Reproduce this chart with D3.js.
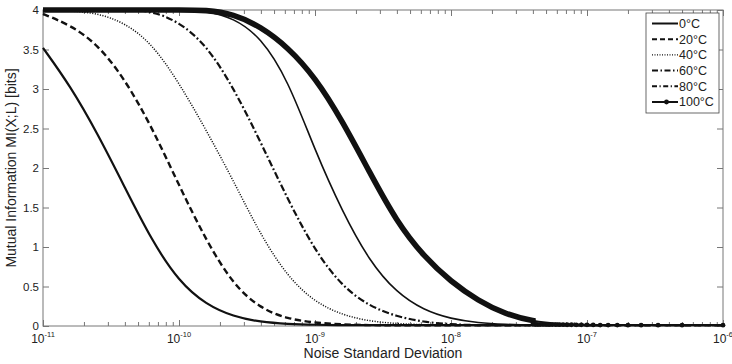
<!DOCTYPE html>
<html>
<head>
<meta charset="utf-8">
<script src="https://cdn.jsdelivr.net/npm/d3@7"></script>
<style>
body { margin: 0; background: #fff; }
text { font-family: "Liberation Sans", Arial, sans-serif; fill: #222; }
</style>
</head>
<body>
<svg id="chart" width="732" height="364"></svg>
<script>
// ---- data ----
// noise grid (exponent of sigma, 0.2 decade steps)
var noiseExp = [-11, -10.8, -10.6, -10.4, -10.2, -10, -9.8, -9.6, -9.4, -9.2, -9,
                -8.8, -8.6, -8.4, -8.2, -8, -7.8, -7.6, -7.4, -7.2, -7,
                -6.8, -6.6, -6.4, -6.2, -6];

var temps = ["0°C", "20°C", "40°C", "60°C", "80°C", "100°C"];

var mi0   = [3.52, 3.04, 2.44, 1.76, 1.08, 0.56, 0.27, 0.12, 0.05, 0.025, 0.015,
             0.01, 0.01, 0.01, 0.01, 0.01, 0.01, 0.01, 0.01, 0.01, 0.01,
             0.01, 0.01, 0.01, 0.01, 0.01];
var mi20  = [3.95, 3.81, 3.57, 3.13, 2.52, 1.78, 1.08, 0.52, 0.22, 0.09, 0.04,
             0.02, 0.01, 0.01, 0.01, 0.01, 0.01, 0.01, 0.01, 0.01, 0.01,
             0.01, 0.01, 0.01, 0.01, 0.01];
var mi40  = [4.00, 3.99, 3.96, 3.84, 3.58, 3.08, 2.48, 1.84, 1.15, 0.62, 0.30,
             0.14, 0.06, 0.03, 0.015, 0.01, 0.01, 0.01, 0.01, 0.01, 0.01,
             0.01, 0.01, 0.01, 0.01, 0.01];
var mi60  = [4.00, 4.00, 4.00, 4.00, 3.99, 3.85, 3.56, 3.02, 2.33, 1.60, 0.95,
             0.50, 0.25, 0.12, 0.05, 0.02, 0.01, 0.01, 0.01, 0.01, 0.01,
             0.01, 0.01, 0.01, 0.01, 0.01];
var mi80  = [4.00, 4.00, 4.00, 4.00, 4.00, 4.00, 3.99, 3.90, 3.66, 3.12, 2.22,
             1.45, 0.82, 0.42, 0.20, 0.09, 0.04, 0.02, 0.01, 0.01, 0.01,
             0.01, 0.01, 0.01, 0.01, 0.01];
var mi100 = [4.00, 4.00, 4.00, 4.00, 4.00, 4.00, 4.00, 3.95, 3.79, 3.53, 3.15,
             2.60, 1.95, 1.32, 0.88, 0.56, 0.32, 0.15, 0.06, 0.025, 0.015,
             0.01, 0.01, 0.01, 0.01, 0.01];

// separate markers of the 100°C curve where they no longer overlap
var tailSigma = [1e-6, 5e-7, 3.33e-7, 2.5e-7, 2e-7, 1.67e-7, 1.43e-7, 1.25e-7, 1.11e-7, 1e-7,
                 9.09e-8, 8.33e-8, 7.69e-8, 7.14e-8, 6.67e-8, 6.25e-8, 5.88e-8, 5.56e-8,
                 5.26e-8, 5e-8, 4.76e-8, 4.55e-8, 4.35e-8, 4.17e-8, 4e-8];
var tailMI = [0.01, 0.01, 0.01, 0.01, 0.01, 0.012, 0.012, 0.012, 0.014, 0.015,
              0.015, 0.015, 0.016, 0.016, 0.017, 0.017, 0.018, 0.018,
              0.019, 0.02, 0.02, 0.02, 0.021, 0.022, 0.023];

var xMajor = [1e-11, 1e-10, 1e-9, 1e-8, 1e-7, 1e-6];
var xMajorExp = ["-11", "-10", "-9", "-8", "-7", "-6"];
var yTicks = [0, 0.5, 1, 1.5, 2, 2.5, 3, 3.5, 4];
var yTickLabels = ["0", "0.5", "1", "1.5", "2", "2.5", "3", "3.5", "4"];

// ---- layout ----
var margin = {top: 10, right: 9, bottom: 38, left: 43},
    w = 732 - margin.left - margin.right,
    h = 364 - margin.top - margin.bottom;

var svg = d3.select("#chart");
var g = svg.append("g").attr("transform", "translate(" + margin.left + "," + margin.top + ")");

var x = d3.scaleLog().domain([1e-11, 1e-6]).range([0, w]);
var y = d3.scaleLinear().domain([0, 4]).range([h, 0]);

// minor ticks 2..9 per decade
var xMinor = [];
xMajor.slice(0, -1).forEach(function(d) {
  for (var k = 2; k <= 9; k++) xMinor.push(d * k);
});

var axisCol = "#777";

function styleAxis(sel) {
  sel.select(".domain").remove();
  sel.selectAll(".tick line").attr("stroke", axisCol);
}

// bottom / top ticks (inward)
g.append("g").attr("transform", "translate(0," + h + ")")
  .call(d3.axisBottom(x).tickValues(xMajor).tickSize(-6).tickFormat(""))
  .call(styleAxis);
g.append("g").attr("transform", "translate(0," + h + ")")
  .call(d3.axisBottom(x).tickValues(xMinor).tickSize(-4).tickFormat(""))
  .call(styleAxis);
g.append("g")
  .call(d3.axisTop(x).tickValues(xMajor).tickSize(-6).tickFormat(""))
  .call(styleAxis);
g.append("g")
  .call(d3.axisTop(x).tickValues(xMinor).tickSize(-4).tickFormat(""))
  .call(styleAxis);

// left / right ticks
var yl = g.append("g")
  .call(d3.axisLeft(y).tickValues(yTicks).tickSize(-6).tickPadding(4)
    .tickFormat(function(d, i) { return yTickLabels[i]; }))
  .call(styleAxis);
yl.selectAll("text").attr("font-size", 11.5).attr("fill", "#222");
g.append("g").attr("transform", "translate(" + w + ",0)")
  .call(d3.axisRight(y).tickValues(yTicks).tickSize(-6).tickFormat(""))
  .call(styleAxis);

// box
g.append("rect").attr("width", w).attr("height", h)
  .attr("fill", "none").attr("stroke", axisCol).attr("stroke-width", 1);

// x tick labels 10^n
var xl = g.selectAll(".xlab").data(xMajor).enter().append("text")
  .attr("class", "xlab")
  .attr("x", function(d) { return x(d); })
  .attr("y", h + 17)
  .attr("text-anchor", "middle")
  .attr("font-size", 12);
xl.append("tspan").text("10");
xl.append("tspan").attr("dy", -6).attr("font-size", 7.5)
  .text(function(d, i) { return xMajorExp[i]; });

// axis titles
svg.append("text")
  .attr("x", margin.left + w / 2).attr("y", 358)
  .attr("text-anchor", "middle").attr("font-size", 14)
  .text("Noise Standard Deviation");
svg.append("text")
  .attr("transform", "translate(16," + (margin.top + h / 2) + ") rotate(-90)")
  .attr("text-anchor", "middle").attr("font-size", 14)
  .text("Mutual Information MI(X;L) [bits]");

// ---- curves ----
var series = [mi0, mi20, mi40, mi60, mi80, mi100];
var styles = [
  {width: 2.2, dash: null},
  {width: 2.4, dash: "6.5,3.5"},
  {width: 1.5, dash: "1.1,1.5"},
  {width: 2.2, dash: "7,2.5,1.8,2.5"},
  {width: 1.6, dash: null},
  {width: 1.8, dash: null}
];
var legendDash = [null, "5,3", "1,1.5", "6,2.5,1.5,2.5", "5,2.5,1.2,2.5", null];

var line = d3.line()
  .x(function(d) { return x(Math.pow(10, d[0])); })
  .y(function(d) { return y(d[1]); })
  .curve(d3.curveBasis);

function pts(vals) {
  return noiseExp.map(function(e, i) { return [e, vals[i]]; });
}

var lineCol = "#111";

series.forEach(function(vals, i) {
  g.append("path")
    .datum(pts(vals))
    .attr("fill", "none")
    .attr("stroke", lineCol)
    .attr("stroke-width", styles[i].width)
    .attr("stroke-dasharray", styles[i].dash)
    .attr("d", line);
});

// 100°C: dense markers merge into a thick band on the left part
g.append("clipPath").attr("id", "bandclip")
  .append("rect").attr("x", -10).attr("y", -10)
  .attr("width", x(4.2e-8) + 10).attr("height", h + 20);
g.append("path")
  .datum(pts(mi100))
  .attr("fill", "none")
  .attr("stroke", lineCol)
  .attr("stroke-width", 5.6)
  .attr("clip-path", "url(#bandclip)")
  .attr("d", line);

g.selectAll(".mk").data(tailSigma).enter().append("circle")
  .attr("class", "mk")
  .attr("cx", function(d) { return x(d); })
  .attr("cy", function(d, i) { return y(tailMI[i]); })
  .attr("r", 2.4)
  .attr("fill", lineCol);

// ---- legend ----
var lg = svg.append("g").attr("transform", "translate(646,13)");
lg.append("rect").attr("width", 73).attr("height", 100)
  .attr("fill", "#fff").attr("stroke", "#444").attr("stroke-width", 0.8);

temps.forEach(function(t, i) {
  var yy = 10.5 + i * 15.7;
  lg.append("line")
    .attr("x1", 6).attr("x2", 32).attr("y1", yy).attr("y2", yy)
    .attr("stroke", lineCol)
    .attr("stroke-width", i == 2 ? 1.2 : 2)
    .attr("stroke-dasharray", legendDash[i]);
  if (i == 5) {
    lg.append("circle").attr("cx", 20.5).attr("cy", yy).attr("r", 2.4).attr("fill", lineCol);
  }
  lg.append("text")
    .attr("x", 33).attr("y", yy + 4.4)
    .attr("font-size", 12.5)
    .text(t);
});
</script>
</body>
</html>
